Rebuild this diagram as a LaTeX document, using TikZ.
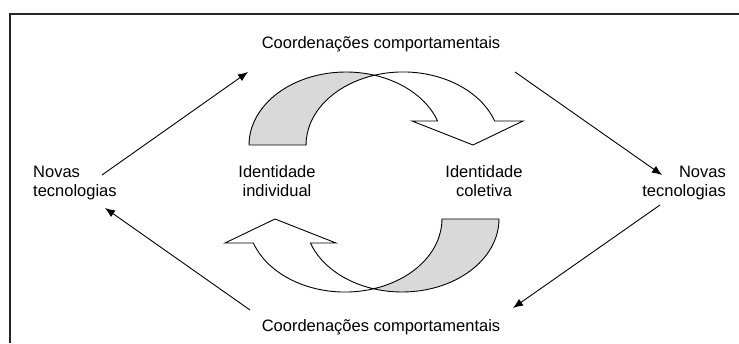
\documentclass[tikz,border=0pt]{standalone}
\usepackage{fontspec}
\setmainfont{Liberation Sans}
\usetikzlibrary{arrows.meta}
\definecolor{tailgray}{RGB}{217,217,217}
\begin{document}
\begin{tikzpicture}[x=1pt, y=1pt,
    lbl/.style={inner sep=0pt, font=\fontsize{16.5}{19}\selectfont},
    flow/.style={line width=0.9pt, -{Latex[length=10pt, width=8pt]}},
    band/.style={draw, line width=0.9pt, line join=miter}]
    \useasboundingbox (0,0) rectangle (739,343);
    % frame
    \draw[line width=2pt, black!85] (10,0) -- (10,328.5) -- (739,328.5);
    % labels
    \node[lbl, anchor=base] (coordTop) at (381,294) {Coordenações comportamentais};
    \node[lbl, anchor=base] (coordBot) at (381,12) {Coordenações comportamentais};
    \node[lbl, align=left, anchor=north west] (novasL) at (33,177) {Novas\\tecnologias};
    \node[lbl, align=right, anchor=north east] (novasR) at (726,177) {Novas\\tecnologias};
    \node[lbl, align=center, anchor=north] (idInd) at (277,178) {Identidade\\individual};
    \node[lbl, align=center, anchor=north] (idCol) at (484,178) {Identidade\\coletiva};
    % straight arrows
    \coordinate (a1s) at (102,168); \coordinate (a1e) at (248,271);
    \coordinate (a2s) at (515,271); \coordinate (a2e) at (662,168);
    \coordinate (a3s) at (660,138); \coordinate (a3e) at (513,35);
    \coordinate (a4s) at (250,33);  \coordinate (a4e) at (105,135);
    \foreach \s/\e in {a1s/a1e, a2s/a2e, a3s/a3e, a4s/a4e}
        \draw[flow] (\s) -- (\e);
    % curved arrows, the lower one turned round
    \foreach \ang in {0,180}{
        \begin{scope}[rotate around={\ang:(374,161)}]
            \draw[band, fill=tailgray] (249,198)
                arc[start angle=180, end angle=72.9, x radius=97, y radius=73]
                arc[start angle=107.1, end angle=180, x radius=97, y radius=73] -- cycle;
            \draw[band, fill=white] (374.5,267.8)
                arc[start angle=107.1, end angle=19.2, x radius=97, y radius=73]
                -- (523,222) -- (473,198) -- (412,222) -- (437.6,222)
                arc[start angle=19.2, end angle=72.9, x radius=97, y radius=73] -- cycle;
        \end{scope}
    }
\end{tikzpicture}
\end{document}
